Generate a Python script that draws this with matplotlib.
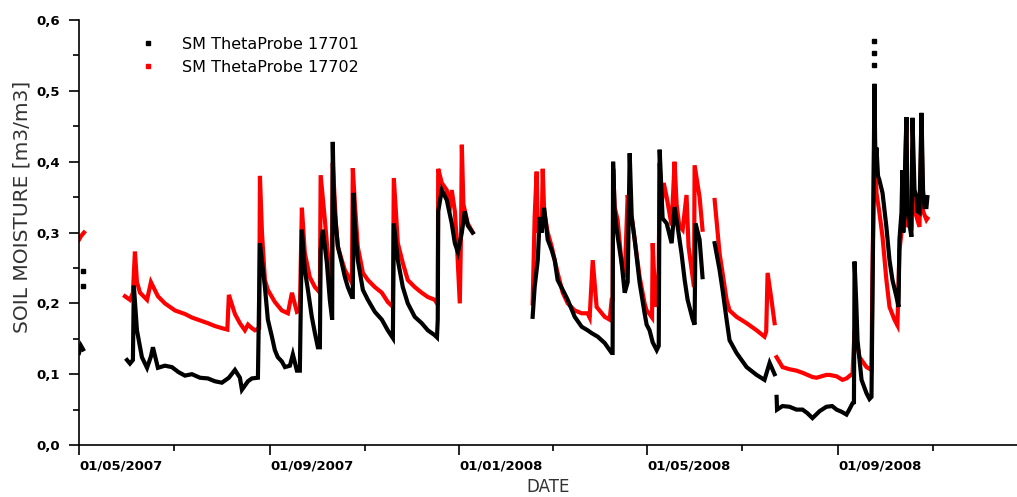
import numpy as np
import matplotlib
matplotlib.use('Agg')
import matplotlib.pyplot as plt
import matplotlib.dates as mdates
from matplotlib.lines import Line2D
from matplotlib.ticker import FuncFormatter, MultipleLocator

START = '2007-05-01'

# days since START, None marks a gap in the logger record
probe1_days = [0, 1.3, 2.6, None,
               30.9, 32.8, 34.7, 35.3, 37.3, 40.5, 43.8, 46.3, 47.6, 50.8, 55.3, 59.8, 64.0,
               68.2, 72.7, 77.9, 83.0, 87.5, 92.0, 96.5, 100.4, 103.6, 104.9, 108.8, 111.3, 115.2,
               116.5, 117.8, 119.7, 121.6, 124.2, 126.1, 128.0, 130.6, 132.6, 135.8, 137.7, 140.3, 142.2,
               143.5, 145.4, 147.4, 149.9, 151.9, 153.8, 155.1, 155.6, 157.0, 159.6, 161.5, 163.0,
               163.4, 164.0, 164.7, 166.7, 169.2, 171.2, 173.1, 175.7,
               176.3, 176.8, 177.6, 179.5, 182.8, 186.0, 190.5, 195.0, 198.8, 202.1,
               202.7, 205.3, 208.5, 211.7, 216.2, 220.7, 224.6, 229.1, 230.5,
               231.0, 231.3, 233.6, 236.8, 240.0, 242.0, 244.0, 246.5, 248.4, 250.3, 253.5, None,
               292.1, 293.4, 295.4, 296.7, 297.9, 299.5, 301.8, 304.4, 306.3, 308.2, 311.5, 314.7,
               319.2, 323.7, 327.5, 330.1, 334.0, 338.5, 341.7, 343.0,
               343.6, 343.9, 344.9, 346.2, 349.4, 351.4, 353.3, 354.6, 355.9, 357.8, 361.0, 364.2,
               365.5, 367.4, 369.4, 372.0,
               373.3, 373.9, 375.2, 375.8, 378.4, 381.6, 383.5, 385.5, 388.0, 390.0, 391.9, 395.2,
               396.4, 397.0, 399.6, 401.5, None,
               409.3, 412.5, 414.4, 417.0, 418.9, 423.4, 429.9, 436.3, 441.4, 444.7, 447.9, None,
               449.2, 449.5, 453.0, 457.5, 462.0, 465.9, 469.0, 472.3, 477.0, 481.3, 485.0, 487.8,
               491.0, 494.2, 496.0, 498.1,
               499.0, 499.4, 500.5, 501.3, 503.9, 507.1, 509.0, 510.3,
               511.5, 512.2, 512.8, 513.5, 514.5, 515.4, 517.4, 519.9, 521.9, 523.8, 526.4, 527.7,
               528.3, 529.6, 530.2, 530.8, 532.8, 533.5, 536.0, 536.7, 538.0, 539.3, 539.9, 541.2,
               542.5, 543.5, 544.4, 545.7, 546.3]
probe1_sm = [0.13, 0.14, 0.135, None,
             0.12, 0.115, 0.12, 0.225, 0.162, 0.124, 0.109, 0.125, 0.138, 0.109, 0.112, 0.11, 0.103,
             0.098, 0.1, 0.095, 0.094, 0.09, 0.088, 0.095, 0.106, 0.095, 0.078, 0.09, 0.094, 0.095,
             0.285, 0.26, 0.223, 0.177, 0.153, 0.134, 0.124, 0.118, 0.11, 0.112, 0.128, 0.105, 0.105,
             0.304, 0.247, 0.219, 0.181, 0.158, 0.138, 0.138, 0.275, 0.304, 0.257, 0.205, 0.177,
             0.428, 0.36, 0.328, 0.28, 0.257, 0.237, 0.223, 0.209,
             0.209, 0.356, 0.313, 0.261, 0.219, 0.205, 0.188, 0.177, 0.162, 0.151,
             0.313, 0.261, 0.223, 0.2, 0.181, 0.172, 0.162, 0.155, 0.152,
             0.177, 0.33, 0.36, 0.346, 0.313, 0.285, 0.272, 0.3, 0.33, 0.31, 0.30, None,
             0.181, 0.223, 0.261, 0.322, 0.3, 0.335, 0.29, 0.275, 0.261, 0.233, 0.219, 0.205,
             0.181, 0.167, 0.162, 0.158, 0.153, 0.144, 0.134, 0.13,
             0.13, 0.40, 0.33, 0.304, 0.257, 0.215, 0.23, 0.412, 0.322, 0.29, 0.229, 0.186,
             0.17, 0.162, 0.145, 0.134,
             0.14, 0.417, 0.35, 0.32, 0.313, 0.285, 0.336, 0.308, 0.27, 0.233, 0.205, 0.177,
             0.17, 0.313, 0.29, 0.237, None,
             0.285, 0.247, 0.219, 0.177, 0.148, 0.13, 0.11, 0.099, 0.092, 0.116, 0.1, None,
             0.068, 0.05, 0.055, 0.054, 0.05, 0.05, 0.045, 0.038, 0.048, 0.054, 0.055, 0.05,
             0.047, 0.043, 0.05, 0.059,
             0.06, 0.259, 0.2, 0.148, 0.092, 0.073, 0.065, 0.068,
             0.33, 0.51, 0.40, 0.42, 0.38, 0.374, 0.356, 0.308, 0.261, 0.233, 0.209, 0.195,
             0.29, 0.328, 0.388, 0.30, 0.463, 0.33, 0.294, 0.462, 0.36, 0.35, 0.33, 0.328,
             0.469, 0.36, 0.336, 0.336, 0.35]

# stray single readings of probe 17701
probe1_dot_days = [2.6, 2.6, 512.2, 512.2, 512.2]
probe1_dot_sm = [0.245, 0.225, 0.570, 0.553, 0.536]

probe2_days = [0, 1.3, 3.2, None,
               29.6, 32.8, 34.7, 36.0, 37.3, 39.3, 43.8, 46.3, 50.8, 55.3, 61.8, 68.2, 72.7,
               77.9, 83.0, 87.5, 92.0, 95.5, 96.5, 100.4, 103.6, 106.8, 108.8, 111.3, 113.3, 116.0,
               116.5, 117.8, 119.7, 121.6, 126.1, 130.6, 134.5, 137.1, 140.3, 142.2,
               143.5, 145.4, 148.6, 151.9, 155.1, 155.6, 158.3, 160.2, 162.8, 163.4, 165.5, 166.7,
               169.2, 171.2, 175.7, 176.3, 177.6, 179.5, 182.8, 186.0, 190.5, 195.0, 198.8, 202.1,
               202.7, 205.3, 208.5, 211.7, 216.2, 220.7, 224.6, 229.1, 230.5,
               231.0, 231.3, 233.6, 236.8, 238.5, 240.0, 242.0, 243.2, 245.2, 246.0, 246.5, 247.5,
               250.3, 253.5, None,
               292.1, 293.4, 294.7, 295.4, 296.7, 297.9, 298.6, 299.5, 301.8, 304.4, 306.3, 308.2,
               311.5, 314.7, 319.2, 323.7, 327.5, 328.8, 330.8, 333.3, 338.5, 341.7, 343.0,
               343.6, 344.0, 344.9, 346.8, 349.4, 351.4, 353.3, 354.6, 355.9, 357.8, 361.0, 364.2,
               365.5, 367.4, 369.0, 369.4, 370.7, 371.9,
               373.3, 373.9, 375.2, 376.5, 378.4, 380.0, 381.6, 383.5, 384.8, 386.5, 388.7, 391.2,
               392.5, 394.5, 396.0, 396.4, 399.6, 401.5, None,
               409.3, 412.5, 414.4, 417.0, 418.9, 423.4, 429.9, 436.3, 441.4, 442.5, 443.4, 445.9,
               447.9, None,
               449.2, 453.0, 457.5, 462.0, 465.9, 472.3, 474.9, 481.3, 483.3, 487.8, 491.6, 494.2,
               498.1, 499.4, 502.6, 507.1, 510.3, 510.9, 511.5, 512.2, 512.8, 513.5, 515.4, 517.4,
               519.9, 521.9, 525.1, 527.0, 528.3, 531.5, 532.8, 533.5, 536.0, 536.7, 538.0, 539.9,
               541.2, 542.5, 543.5, 545.7, 546.3]
probe2_sm = [0.29, 0.295, 0.30, None,
             0.21, 0.205, 0.215, 0.273, 0.23, 0.215, 0.205, 0.23, 0.21, 0.2, 0.19, 0.185, 0.18,
             0.176, 0.172, 0.168, 0.165, 0.163, 0.212, 0.185, 0.172, 0.162, 0.17, 0.165, 0.162, 0.165,
             0.38, 0.30, 0.233, 0.219, 0.202, 0.19, 0.186, 0.215, 0.188, 0.19,
             0.335, 0.271, 0.237, 0.223, 0.215, 0.381, 0.318, 0.27, 0.233, 0.398, 0.31, 0.28,
             0.261, 0.247, 0.229, 0.391, 0.342, 0.28, 0.243, 0.233, 0.223, 0.215, 0.202, 0.195,
             0.377, 0.285, 0.257, 0.233, 0.223, 0.215, 0.209, 0.205, 0.2,
             0.2, 0.39, 0.37, 0.36, 0.33, 0.36, 0.33, 0.29, 0.2, 0.3, 0.424, 0.34,
             0.313, 0.30, None,
             0.2, 0.322, 0.386, 0.30, 0.32, 0.30, 0.39, 0.33, 0.30, 0.28, 0.261, 0.243,
             0.215, 0.2, 0.19, 0.186, 0.186, 0.18, 0.261, 0.195, 0.181, 0.177, 0.205,
             0.205, 0.39, 0.336, 0.318, 0.257, 0.237, 0.353, 0.33, 0.322, 0.29, 0.237, 0.2,
             0.19, 0.185, 0.18, 0.285, 0.22, 0.195,
             0.25, 0.398, 0.34, 0.37, 0.35, 0.33, 0.31, 0.4, 0.34, 0.31, 0.304, 0.353,
             0.28, 0.247, 0.223, 0.395, 0.35, 0.304, None,
             0.346, 0.27, 0.243, 0.205, 0.19, 0.181, 0.172, 0.162, 0.153, 0.16, 0.243, 0.205,
             0.172, None,
             0.124, 0.11, 0.107, 0.105, 0.102, 0.096, 0.095, 0.099, 0.099, 0.097, 0.092, 0.094,
             0.101, 0.162, 0.124, 0.11, 0.106, 0.24, 0.33, 0.466, 0.40, 0.356, 0.328, 0.294,
             0.233, 0.195, 0.177, 0.169, 0.275, 0.336, 0.459, 0.31, 0.308, 0.417, 0.332, 0.318,
             0.308, 0.449, 0.33, 0.318, 0.32]

labels = ['SM ThetaProbe 17701', 'SM ThetaProbe 17702']
colors = ['black', 'red']


def to_datenum(days):
    return mdates.datestr2num(START) + np.array(days, dtype=float)


def comma_fmt(v, pos):
    return f'{v:.1f}'.replace('.', ',')


fig = plt.figure(figsize=(10.17, 4.97), dpi=100)
ax = fig.add_axes([0.0777, 0.1046, 0.9223, 0.855])

ax.plot(to_datenum(probe2_days), np.array(probe2_sm, dtype=float),
        color=colors[1], lw=3, solid_joinstyle='miter')
ax.plot(to_datenum(probe1_days), np.array(probe1_sm, dtype=float),
        color=colors[0], lw=3, solid_joinstyle='miter')
ax.plot(to_datenum(probe1_dot_days), probe1_dot_sm, ls='none', marker='s',
        ms=2.2, color=colors[0])

ax.set_ylim(0, 0.6)
ax.set_xlim(mdates.datestr2num(START), mdates.datestr2num('2008-12-25'))

ax.yaxis.set_major_locator(MultipleLocator(0.1))
ax.yaxis.set_minor_locator(MultipleLocator(0.05))
ax.yaxis.set_major_formatter(FuncFormatter(comma_fmt))
ax.xaxis.set_major_locator(mdates.MonthLocator(bymonth=[1, 5, 9]))
ax.xaxis.set_minor_locator(mdates.MonthLocator(bymonth=[3, 7, 11]))
ax.xaxis.set_major_formatter(mdates.DateFormatter('%d/%m/%Y'))

for side in ['top', 'right']:
    ax.spines[side].set_visible(False)
for side in ['left', 'bottom']:
    ax.spines[side].set_linewidth(1.2)

ax.tick_params(axis='both', which='major', length=7.5, width=1.2, direction='out')
ax.tick_params(axis='both', which='minor', length=4, width=1.2, direction='out')
ax.tick_params(axis='y', labelsize=9.5, pad=6)
ax.tick_params(axis='x', labelsize=9.5, pad=3)
for t in ax.get_yticklabels() + ax.get_xticklabels():
    t.set_fontweight('bold')
for t in ax.get_xticklabels():
    t.set_horizontalalignment('left')

ax.set_ylabel('SOIL MOISTURE [m3/m3]', fontsize=14.5, color='#333333')
ax.yaxis.set_label_coords(-0.051, 0.56)
ax.set_xlabel('DATE', fontsize=12, color='#333333', labelpad=4)

handles = [Line2D([], [], ls='none', marker='s', ms=2.5, color=c) for c in colors]
ax.legend(handles, labels, loc='upper left', bbox_to_anchor=(0.0565, 0.96),
          frameon=False, fontsize=11.5, borderpad=0, borderaxespad=0,
          handlelength=2, handletextpad=1.1, labelspacing=0.5)

fig.savefig('out.png', dpi=100, facecolor='white')
